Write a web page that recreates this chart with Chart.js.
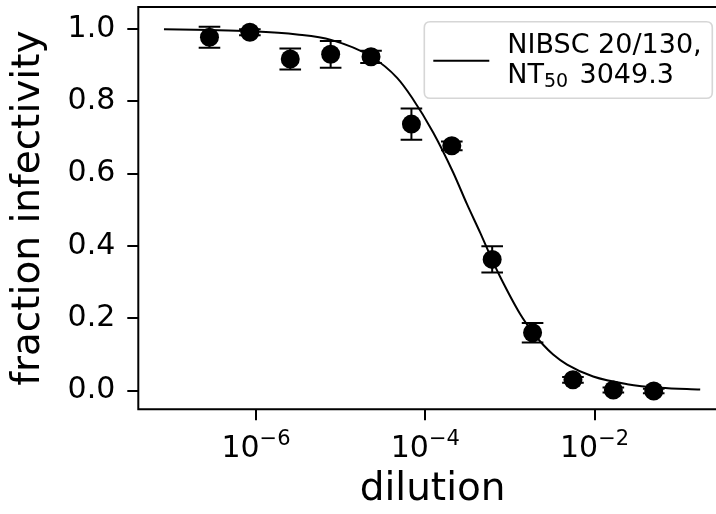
<!DOCTYPE html>
<html><head><meta charset="utf-8">
<script src="https://cdn.jsdelivr.net/npm/chart.js@4"></script>
<style>
html,body{margin:0;padding:0;overflow:hidden;background:#fff;width:716px;height:514px}
#wrap{position:absolute;left:0;top:0;width:740px;height:514px}
canvas{display:block}
</style>
</head><body>
<div id="wrap"><canvas id="c" width="740" height="514"></canvas></div>
<script>
// measured points (3-fold dilution series)
const dilutions = [2.822e-7, 8.467e-7, 2.540e-6, 7.621e-6, 2.286e-5, 6.859e-5, 2.058e-4, 6.173e-4, 1.852e-3, 5.556e-3, 1.667e-2, 5.0e-2];
const infectivity = [0.977, 0.991, 0.917, 0.930, 0.923, 0.737, 0.677, 0.363, 0.160, 0.030, 0.002, -0.001];
const infectivityErr = [0.029, 0.008, 0.029, 0.037, 0.017, 0.043, 0.012, 0.036, 0.027, 0.008, 0.007, 0.006];
// fitted curve
const curveDilutions = [8.18e-8, 2.86e-7, 8.49e-7, 3.05e-6, 7.71e-6, 2.29e-5, 4.65e-5, 6.98e-5, 1.24e-4, 2.13e-4, 3.12e-4, 4.45e-4, 6.32e-4, 7.66e-4, 1.32e-3, 1.88e-3, 2.47e-3, 3.24e-3, 4.74e-3, 9.62e-3, 2.43e-2, 5.96e-2, 0.177];
const curveValues = [0.999, 0.997, 0.994, 0.985, 0.970, 0.924, 0.865, 0.810, 0.714, 0.604, 0.515, 0.437, 0.356, 0.315, 0.212, 0.160, 0.127, 0.100, 0.072, 0.039, 0.018, 0.008, 0.003];
const xTickValues = [1e-6, 1e-4, 1e-2];
const xTickBase = '10';
const xTickExponents = ['\u22126', '\u22124', '\u22122'];
const yTickValues = [0, 0.2, 0.4, 0.6, 0.8, 1.0];
const yTickLabels = ['0.0', '0.2', '0.4', '0.6', '0.8', '1.0'];
const seriesName = 'NIBSC 20/130,';
const legendLine2 = ['NT', '50', '3049.3'];
const xTitle = 'dilution';
const yTitle = 'fraction infectivity';

const FONT = 'DejaVu Sans';
Chart.defaults.font.family = FONT;
Chart.defaults.color = '#000';

// spines: left, top, bottom (right spine lies outside the picture)
const frame = {
  id: 'frame',
  afterDraw(chart) {
    const {ctx, chartArea: a} = chart;
    ctx.save();
    ctx.strokeStyle = '#000';
    ctx.lineWidth = 2;
    ctx.beginPath();
    ctx.moveTo(a.right, a.top);
    ctx.lineTo(a.left, a.top);
    ctx.lineTo(a.left, a.bottom);
    ctx.lineTo(a.right, a.bottom);
    ctx.stroke();
    ctx.restore();
  }
};

const errorBars = {
  id: 'errorBars',
  afterDatasetsDraw(chart) {
    const {ctx} = chart;
    const xs = chart.scales.x, ys = chart.scales.y;
    ctx.save();
    ctx.strokeStyle = '#000';
    ctx.lineWidth = 2;
    for (let i = 0; i < dilutions.length; i++) {
      const px = xs.getPixelForValue(dilutions[i]);
      const y1 = ys.getPixelForValue(infectivity[i] + infectivityErr[i]);
      const y2 = ys.getPixelForValue(infectivity[i] - infectivityErr[i]);
      const cap = 10.8;
      ctx.beginPath();
      ctx.moveTo(px, y1); ctx.lineTo(px, y2);
      ctx.moveTo(px - cap, y1); ctx.lineTo(px + cap, y1);
      ctx.moveTo(px - cap, y2); ctx.lineTo(px + cap, y2);
      ctx.stroke();
    }
    ctx.restore();
  }
};

const xLabels = {
  id: 'xLabels',
  afterDraw(chart) {
    const {ctx, chartArea: a} = chart;
    const xs = chart.scales.x;
    ctx.save();
    ctx.fillStyle = '#000';
    ctx.textBaseline = 'alphabetic';
    ctx.textAlign = 'left';
    for (let i = 0; i < xTickValues.length; i++) {
      const px = xs.getPixelForValue(xTickValues[i]);
      ctx.font = '30px "' + FONT + '"';
      const w1 = ctx.measureText(xTickBase).width;
      ctx.font = '21px "' + FONT + '"';
      const w2 = ctx.measureText(xTickExponents[i]).width;
      const x0 = px - (w1 + w2) / 2;
      ctx.font = '30px "' + FONT + '"';
      ctx.fillText(xTickBase, x0, a.bottom + 47.4);
      ctx.font = '21px "' + FONT + '"';
      ctx.fillText(xTickExponents[i], x0 + w1, a.bottom + 36);
    }
    ctx.restore();
  }
};

const legendBox = {
  id: 'legendBox',
  afterDraw(chart) {
    const {ctx, chartArea: a} = chart;
    const w = 288, h = 76.6, r = 6;
    const bx = a.right - 14.7 - w, by = a.top + 14.7;
    ctx.save();
    ctx.beginPath();
    ctx.moveTo(bx + r, by);
    ctx.lineTo(bx + w - r, by);
    ctx.quadraticCurveTo(bx + w, by, bx + w, by + r);
    ctx.lineTo(bx + w, by + h - r);
    ctx.quadraticCurveTo(bx + w, by + h, bx + w - r, by + h);
    ctx.lineTo(bx + r, by + h);
    ctx.quadraticCurveTo(bx, by + h, bx, by + h - r);
    ctx.lineTo(bx, by + r);
    ctx.quadraticCurveTo(bx, by, bx + r, by);
    ctx.closePath();
    ctx.fillStyle = 'rgba(255,255,255,0.8)';
    ctx.fill();
    ctx.strokeStyle = '#d6d6d6';
    ctx.lineWidth = 1.6;
    ctx.stroke();
    ctx.beginPath();
    ctx.strokeStyle = '#000';
    ctx.lineWidth = 2;
    ctx.moveTo(bx + 9, by + 39);
    ctx.lineTo(bx + 65, by + 39);
    ctx.stroke();
    ctx.fillStyle = '#000';
    ctx.textBaseline = 'alphabetic';
    ctx.textAlign = 'left';
    const tx = bx + 83;
    ctx.font = '27px "' + FONT + '"';
    ctx.fillText(seriesName, tx, by + 31.6);
    ctx.fillText(legendLine2[0], tx, by + 61);
    let x = tx + ctx.measureText(legendLine2[0]).width;
    ctx.font = '19px "' + FONT + '"';
    ctx.fillText(legendLine2[1], x, by + 65.3);
    x += ctx.measureText(legendLine2[1]).width;
    ctx.font = '27px "' + FONT + '"';
    x += ctx.measureText(' ').width + 2.7;
    ctx.fillText(legendLine2[2], x, by + 61);
    ctx.restore();
  }
};

// keep the empty right margin of the plot clean
const cleanRight = {
  id: 'cleanRight',
  afterDraw(chart) {
    const {ctx} = chart;
    ctx.save();
    ctx.fillStyle = '#fff';
    ctx.fillRect(702, 110, 40, 260);
    ctx.restore();
  }
};

function zeroPad(scale) {
  scale.paddingTop = 0; scale.paddingBottom = 0;
  scale.paddingLeft = 0; scale.paddingRight = 0;
}

new Chart(document.getElementById('c'), {
  type: 'line',
  data: {
    datasets: [
      {
        label: 'data',
        data: dilutions.map((x, i) => ({x: x, y: infectivity[i]})),
        showLine: false,
        pointRadius: 9.5,
        pointHoverRadius: 9.5,
        pointBackgroundColor: '#000',
        pointBorderWidth: 0,
        borderColor: '#000'
      },
      {
        label: seriesName,
        data: curveDilutions.map((x, i) => ({x: x, y: curveValues[i]})),
        borderColor: '#000',
        borderWidth: 2,
        pointRadius: 0,
        fill: false,
        cubicInterpolationMode: 'monotone'
      }
    ]
  },
  options: {
    responsive: false,
    animation: false,
    events: [],
    layout: {autoPadding: false, padding: {left: 0, top: 7, right: 13, bottom: 0}},
    plugins: {legend: {display: false}, tooltip: {enabled: false}},
    scales: {
      x: {
        type: 'logarithmic',
        min: 4.07e-8,
        max: 0.367,
        afterBuildTicks(scale) { scale.ticks = xTickValues.map(v => ({value: v, major: true})); },
        afterFit(scale) { scale.height = 104.7; zeroPad(scale); },
        ticks: {autoSkip: false, maxRotation: 0, callback: () => '', font: {size: 30}},
        grid: {display: true, drawOnChartArea: false, drawTicks: true, tickLength: 11, tickWidth: 2, tickColor: '#000', color: '#000', lineWidth: 2},
        border: {display: false},
        title: {display: true, text: xTitle, color: '#000', font: {size: 39, lineHeight: 1.2}, padding: {top: 0, bottom: 1}}
      },
      y: {
        type: 'linear',
        min: -0.0515,
        max: 1.0608,
        afterBuildTicks(scale) { scale.ticks = yTickValues.map(v => ({value: v})); },
        afterFit(scale) { scale.width = 138.3; zeroPad(scale); },
        ticks: {autoSkip: false, padding: 12, color: '#000', font: {size: 30}, callback: (v, i) => yTickLabels[i]},
        grid: {display: true, drawOnChartArea: false, drawTicks: true, tickLength: 11, tickWidth: 2, tickColor: '#000', color: '#000', lineWidth: 2},
        border: {display: false},
        title: {display: true, text: yTitle, color: '#000', font: {size: 39, lineHeight: 1.2}, padding: {top: 5, bottom: 0}}
      }
    }
  },
  plugins: [errorBars, frame, xLabels, legendBox, cleanRight]
});
</script>
</body></html>
